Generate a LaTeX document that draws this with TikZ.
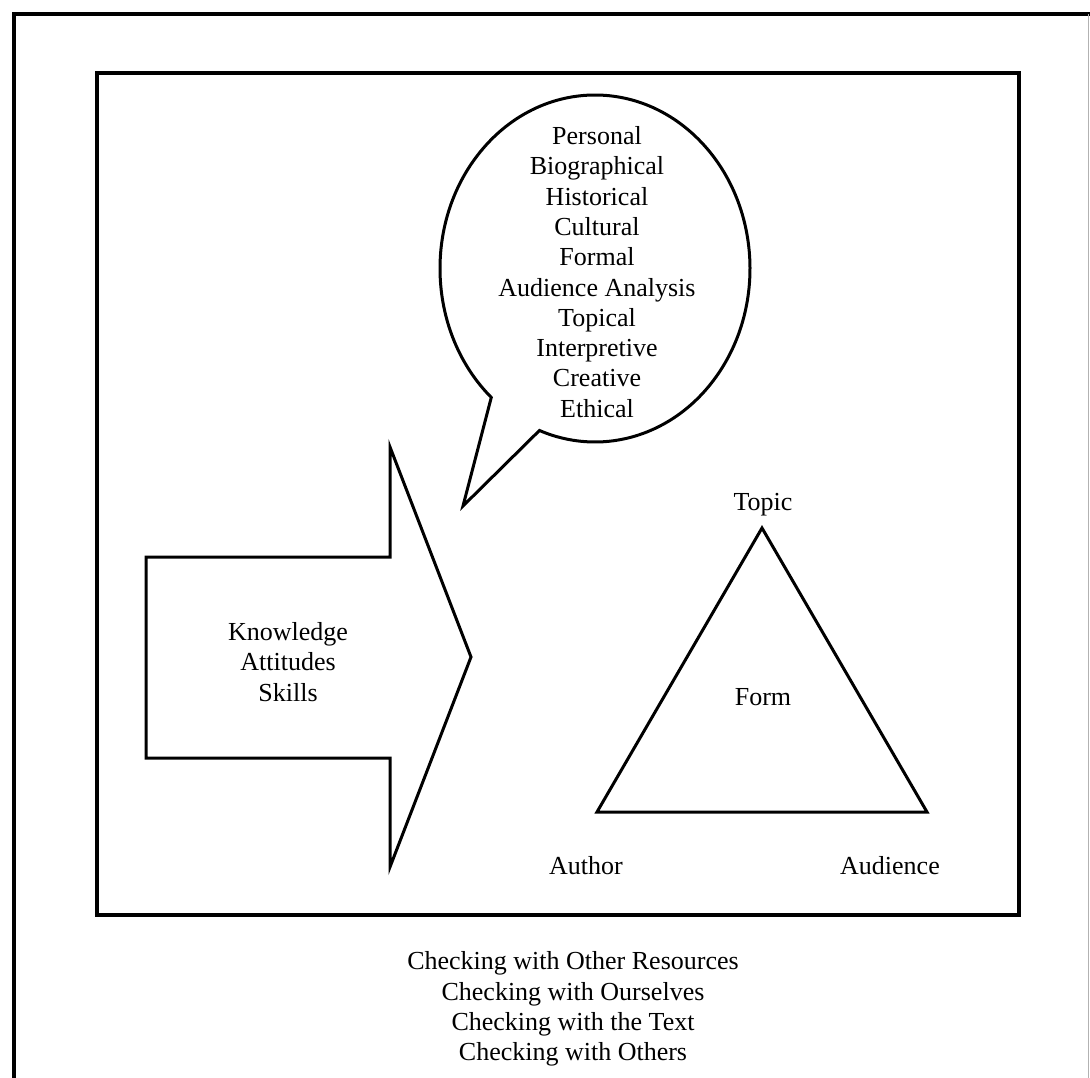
\documentclass[tikz,border=0pt]{standalone}
\usepackage{fontspec}
\setmainfont{Liberation Serif}
\begin{document}
\begin{tikzpicture}[x=1pt,y=-1pt,
  frame/.style={line width=3.5pt},
  shapeline/.style={line width=3pt, line join=miter},
  lbl/.style={inner sep=0pt, align=center, font=\fontsize{26}{30.3}\selectfont}]
\useasboundingbox (0,0) rectangle (1090,1078);
\fill[white] (0,0) rectangle (1090,1078);
% outer frame
\draw[frame] (14,1078) -- (14,14) -- (1090,14);
\draw[gray!60, line width=1pt] (1088,14) -- (1088,1078);
% inner box
\draw[frame] (97,73) rectangle (1019,915);
% speech bubble
\draw[shapeline] (595,268.5) ++(132:155 and 173.5)
  arc[start angle=132, end angle=471, x radius=155, y radius=173.5]
  -- (463,506) -- cycle;
\node[lbl] (lenses) at (597,272) {Personal\\Biographical\\Historical\\Cultural\\Formal\\Audience Analysis\\Topical\\Interpretive\\Creative\\Ethical};
% big arrow
\draw[shapeline] (146,557) -- (390,557) -- (390,447) -- (471,657) -- (390,867) -- (390,758) -- (146,758) -- cycle;
\node[lbl] (kas) at (288,662) {Knowledge\\Attitudes\\Skills};
% triangle
\draw[shapeline] (762,528) -- (927,812) -- (597,812) -- cycle;
\node[lbl] (topic) at (763,505) {Topic};
\node[lbl] (form) at (763,697) {Form};
\node[lbl] (author) at (586,866) {Author};
\node[lbl] (audience) at (890,866) {Audience};
% checking list
\node[lbl] (checking) at (573,1009) {Checking with Other Resources\\Checking with Ourselves\\Checking with the Text\\Checking with Others};
\end{tikzpicture}
\end{document}
